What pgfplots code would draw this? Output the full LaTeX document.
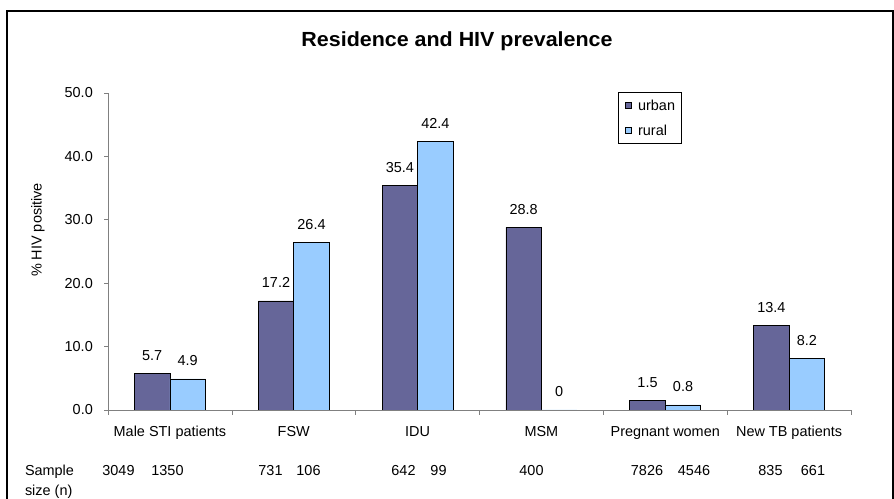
\documentclass[border=0pt]{standalone}
\usepackage{fontspec}
\setmainfont{Liberation Sans}
\newfontfamily\titlefont{Liberation Sans}[FakeStretch=1.05]
\usepackage{pgfplots}
\pgfplotsset{compat=1.18}
\definecolor{urban}{HTML}{666699}
\definecolor{rural}{HTML}{99CCFF}
\definecolor{axgray}{HTML}{808080}
\pgfplotstableread{
x y lab
0 5.7 5.7
1 17.2 17.2
2 35.4 35.4
3 28.8 28.8
4 1.5 1.5
5 13.4 13.4
}\urbandata
\pgfplotstableread{
x y lab
0 4.9 4.9
1 26.4 26.4
2 42.4 42.4
3 0 0
4 0.8 0.8
5 8.2 8.2
}\ruraldata
\begin{document}
\begin{tikzpicture}[x=1bp,y=1bp]
\fontsize{14.5}{16}\selectfont
\path[use as bounding box] (0,0) rectangle (894,499);
\draw[line width=2bp] (7,0) -- (7,488) -- (893,488) -- (893,0);
\node[font=\titlefont\bfseries\fontsize{20.5}{22}\selectfont, anchor=base] at (457,452) {Residence and HIV prevalence};
\begin{axis}[
  at={(108bp,89bp)}, anchor=south west,
  scale only axis, width=743bp, height=317bp,
  xmin=-0.5, xmax=5.5, ymin=0, ymax=50,
  axis x line=bottom, axis y line=left,
  x axis line style={axgray,-}, y axis line style={axgray,-},
  tick style={axgray, line width=0.6bp},
  tick align=outside,
  major tick length=4bp, minor tick length=5bp,
  xtick={0,...,5},
  xticklabels={Male STI patients, FSW, IDU, MSM, Pregnant women, New TB patients},
  major x tick style={draw=none},
  minor xtick={-0.5,0.5,...,5.5},
  ytick={0,10,...,50},
  /pgf/number format/fixed,
  /pgf/number format/fixed zerofill,
  /pgf/number format/precision=1,
  /pgf/number format/assume math mode=true,
  yticklabel style={anchor=east, inner sep=0pt, xshift=-11bp},
  xticklabel style={anchor=north, inner sep=0pt, yshift=-12bp},
  ybar=0pt, bar width=35.5bp,
  nodes near coords,
  point meta=explicit symbolic,
  every node near coord/.append style={anchor=base, inner sep=0pt, yshift=13bp, black},
  legend style={at={(0.686,1.003)}, anchor=north west, draw=black, line width=0.8bp,
    inner xsep=6.6bp, inner ysep=7.5bp, row sep=14.5bp,
    nodes={inner sep=0pt, text height=10.5bp, text depth=0bp}},
  legend cell align=left,
  every axis plot/.append style={legend image code/.code={\path[draw=none, fill=none] (0bp,0bp) -- (13bp,0bp); \draw[#1, line width=0.8bp] (0bp,-3bp) rectangle (6bp,3bp);}},
]
\addplot[fill=urban, draw=black, line width=0.8bp] table[x=x, y=y, meta=lab] {\urbandata};
\addlegendentry{urban\hspace{5bp}}
\addplot[fill=rural, draw=black, line width=0.8bp] table[x=x, y=y, meta=lab] {\ruraldata};
\addlegendentry{rural}
\end{axis}
\node[rotate=90] at (38,269) {\% HIV positive};
\node[anchor=base west] at (20,23) {Sample};
\node[anchor=base west] at (20,3) {size (n)};
\foreach \xx/\lab in {118.5/3049, 167.5/1350, 270.5/731, 308.5/106, 403.5/642, 438.5/99, 531.5/400, 647/7826, 694/4546, 770.5/835, 813/661}
  \node[anchor=base] at (\xx,23) {\lab};
\end{tikzpicture}
\end{document}
